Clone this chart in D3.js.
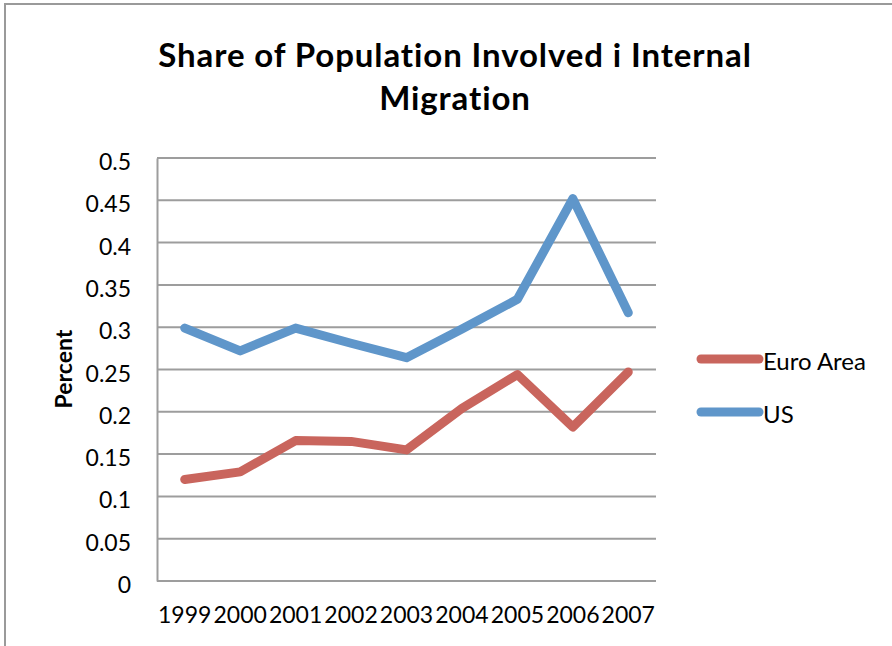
<!DOCTYPE html>
<html>
<head>
<meta charset="utf-8">
<script src="https://cdn.jsdelivr.net/npm/d3@7"></script>
<style>
  html, body { margin: 0; padding: 0; background: #fff; }
  svg { display: block; }
  text { font-family: Lato, "Open Sans", sans-serif; fill: #000; }
</style>
</head>
<body>
<svg id="chart" width="892" height="646"></svg>
<script>
// Share of population involved in internal migration, 1999-2007
const years = ["1999", "2000", "2001", "2002", "2003", "2004", "2005", "2006", "2007"];
const euroArea = [0.120, 0.129, 0.166, 0.165, 0.155, 0.204, 0.244, 0.182, 0.247];
const usValues = [0.299, 0.272, 0.299, 0.281, 0.264, 0.298, 0.333, 0.452, 0.317];
const yTicks = [0, 0.05, 0.1, 0.15, 0.2, 0.25, 0.3, 0.35, 0.4, 0.45, 0.5];
const seriesNames = ["Euro Area", "US"];
const seriesColors = ["#C9655D", "#5F96CA"];
const titleLines = ["Share of Population Involved i Internal", "Migration"];
const yAxisTitle = "Percent";

const svg = d3.select("#chart");

// outer chart frame
svg.append("rect")
  .attr("x", 5).attr("y", 4)
  .attr("width", 1000).attr("height", 1000)
  .attr("fill", "none")
  .attr("stroke", "#9a9a9a")
  .attr("stroke-width", 2);

const plot = { left: 157, right: 656, top: 158, bottom: 581 };

const x = d3.scaleBand()
  .domain(years)
  .range([plot.left, plot.right]);

const y = d3.scaleLinear()
  .domain([0, 0.5])
  .range([plot.bottom, plot.top]);

// horizontal gridlines
svg.append("g")
  .selectAll("line")
  .data(yTicks)
  .join("line")
  .attr("x1", plot.left).attr("x2", plot.right)
  .attr("y1", d => y(d)).attr("y2", d => y(d))
  .attr("stroke", "#9d9d9d")
  .attr("stroke-width", 2);

// y axis
const yAxis = svg.append("g")
  .attr("transform", `translate(${plot.left},0)`)
  .call(d3.axisLeft(y).tickValues(yTicks).tickFormat(d => String(+d.toFixed(2))).tickSize(0).tickPadding(26));
yAxis.select(".domain").attr("stroke", "#9d9d9d").attr("stroke-width", 2);
yAxis.selectAll("text")
  .attr("font-size", 23)
  .attr("dy", "0.5em")
  .style("font-family", "Lato, sans-serif");

// x axis
const xAxis = svg.append("g")
  .attr("transform", `translate(0,${plot.bottom})`)
  .call(d3.axisBottom(x).tickSize(0).tickPadding(26));
xAxis.select(".domain").remove();
xAxis.selectAll("text")
  .attr("font-size", 23)
  .style("font-family", "Lato, sans-serif");

// series lines
const line = d3.line()
  .x((d, i) => x(years[i]) + x.bandwidth() / 2)
  .y(d => y(d));

[euroArea, usValues].forEach((vals, i) => {
  svg.append("path")
    .datum(vals)
    .attr("d", line)
    .attr("fill", "none")
    .attr("stroke", seriesColors[i])
    .attr("stroke-width", 9)
    .attr("stroke-linejoin", "round")
    .attr("stroke-linecap", "round");
});

// title
svg.append("g")
  .selectAll("text")
  .data(titleLines)
  .join("text")
  .attr("x", 455)
  .attr("y", (d, i) => 67 + i * 43)
  .attr("text-anchor", "middle")
  .attr("font-size", 33)
  .attr("font-weight", "bold")
  .attr("letter-spacing", "0.9px")
  .text(d => d);

// y axis title
svg.append("text")
  .attr("transform", "translate(72,369) rotate(-90)")
  .attr("text-anchor", "middle")
  .attr("font-size", 23)
  .attr("font-weight", "bold")
  .text(yAxisTitle);

// legend
const legend = svg.append("g")
  .selectAll("g")
  .data(seriesNames)
  .join("g")
  .attr("transform", (d, i) => `translate(701,${359 + i * 53})`);
legend.append("line")
  .attr("x1", 0).attr("x2", 58)
  .attr("stroke", (d, i) => seriesColors[i])
  .attr("stroke-width", 9)
  .attr("stroke-linecap", "round");
legend.append("text")
  .attr("x", 62)
  .attr("y", 11)
  .attr("font-size", 24)
  .text(d => d);
</script>
</body>
</html>
